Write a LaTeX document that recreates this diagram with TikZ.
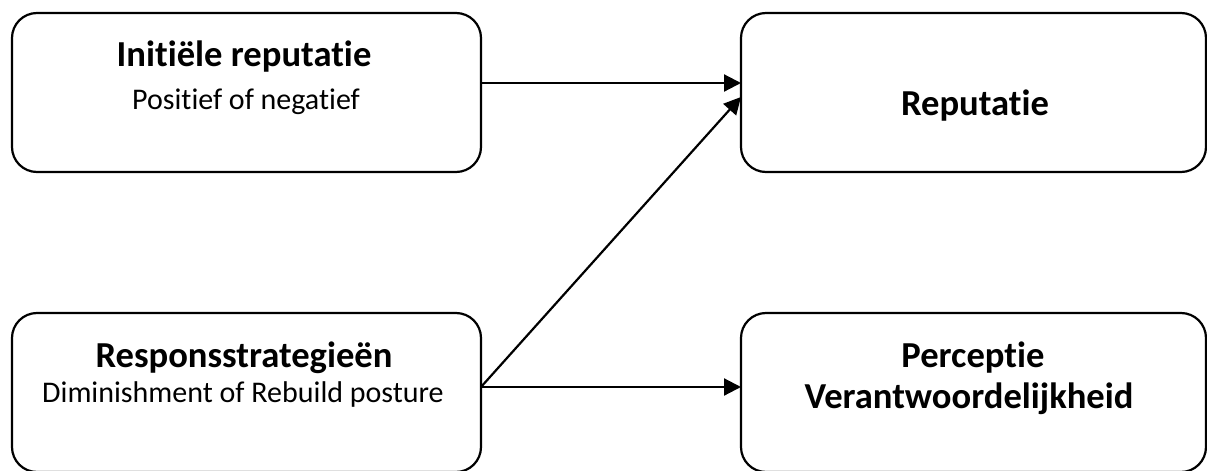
\documentclass[tikz,border=0pt]{standalone}
\usepackage{fontspec}
\setmainfont{Carlito}[Ligatures=NoCommon]
\usetikzlibrary{arrows.meta}
\begin{document}
\begin{tikzpicture}[x=0.5pt,y=-0.5pt,
  box/.style={draw=black, line width=1.1pt, rounded corners=12.5pt, inner sep=0pt, outer sep=0pt},
  titletext/.style={anchor=base, inner sep=0pt, font=\fontsize{18.3}{22}\selectfont\bfseries},
  subtext/.style={anchor=base, inner sep=0pt, font=\fontsize{15}{18}\selectfont},
  arr/.style={line width=1.1pt, -{Triangle[length=8.5pt,width=8.5pt]}}]
\useasboundingbox (0,0) rectangle (1207,471);
\node[box, minimum width=234.5pt, minimum height=79.5pt] (tl) at (246.5,92.5) {};
\node[box, minimum width=232.5pt, minimum height=79.5pt] (tr) at (973.5,92.5) {};
\node[box, minimum width=234.5pt, minimum height=79.5pt] (bl) at (246.5,392.5) {};
\node[box, minimum width=232.5pt, minimum height=79.5pt] (br) at (973.5,392.5) {};
\node[titletext] (t1) at (244,67) {Initiële reputatie};
\node[subtext] (s1) at (246,109) {Positief of negatief};
\node[titletext] (t2) at (975,115) {Reputatie};
\node[titletext] (t3) at (244,367) {Responsstrategieën};
\node[subtext] (s3) at (243,402) {Diminishment of Rebuild posture};
\node[titletext] (t4) at (973,367) {Perceptie};
\node[titletext] (t5) at (969,408) {Verantwoordelijkheid};
\draw[arr] ([yshift=4.75pt]tl.east) -- ([yshift=4.75pt]tr.west);
\draw[arr] ([yshift=2.75pt]bl.east) -- ([yshift=-2.25pt]tr.west);
\draw[arr] ([yshift=2.75pt]bl.east) -- ([yshift=2.75pt]br.west);
\end{tikzpicture}
\end{document}
